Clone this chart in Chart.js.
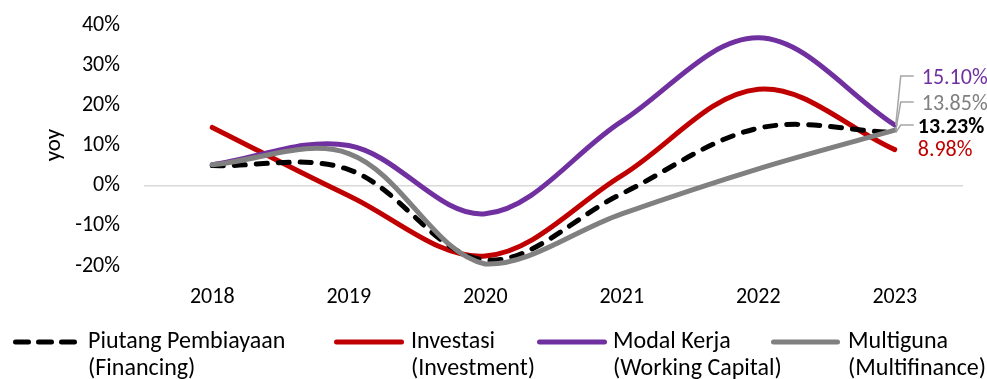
<!DOCTYPE html>
<html>
<head>
<meta charset="utf-8">
<script src="https://cdn.jsdelivr.net/npm/chart.js@4.4.1/dist/chart.umd.min.js"></script>
<style>
  html, body { margin: 0; padding: 0; background: #ffffff; }
  #wrap { position: relative; width: 987px; height: 379px; }
  canvas { display: block; }
</style>
</head>
<body>
<div id="wrap"><canvas id="c" width="987" height="379"></canvas></div>
<script>
const categories = ['2018', '2019', '2020', '2021', '2022', '2023'];
const financing  = [5.0, 4.0, -18.5, -2.0, 14.3, 13.23];
const investment = [14.5, -2.5, -17.5, 2.5, 24.0, 8.98];
const working    = [5.2, 10.0, -7.0, 16.0, 36.8, 15.10];
const multiguna  = [5.2, 8.0, -19.5, -7.0, 4.2, 13.85];
const yTicks     = [-20, -10, 0, 10, 20, 30, 40];

const seriesNames = [
  ['Piutang Pembiayaan', '(Financing)'],
  ['Investasi', '(Investment)'],
  ['Modal Kerja', '(Working Capital)'],
  ['Multiguna', '(Multifinance)']
];
const endLabels = ['13.23%', '8.98%', '15.10%', '13.85%'];

const FONT = 'Carlito, Lato, sans-serif';
const COLORS = ['#000000', '#C00000', '#7030A0', '#808080'];

const overlay = {
  id: 'overlay',
  afterDraw(chart) {
    const ctx = chart.ctx;
    const xs = chart.scales.x, ys = chart.scales.y;
    ctx.save();
    // y-axis title
    ctx.fillStyle = '#000';
    ctx.font = '23px ' + FONT;
    ctx.textAlign = 'center';
    ctx.textBaseline = 'middle';
    ctx.translate(54, 145);
    ctx.rotate(-Math.PI / 2);
    ctx.fillText('yoy', 0, 0);
    ctx.setTransform(1, 0, 0, 1, 0, 0);

    // end labels with leader lines
    const last = categories.length - 1;
    const px = xs.getPixelForValue(last);
    const labelSpec = [
      { ds: 0, y: 127, dx: 23, bold: true, leader: true },
      { ds: 1, y: 150, dx: 23, bold: false, leader: false },
      { ds: 2, y: 78, dx: 27, bold: false, leader: true },
      { ds: 3, y: 104, dx: 27, bold: false, leader: true }
    ];
    const vals = [financing, investment, working, multiguna];
    ctx.strokeStyle = '#A6A6A6';
    ctx.lineWidth = 1.5;
    labelSpec.forEach(s => {
      if (!s.leader) return;
      const py = ys.getPixelForValue(vals[s.ds][last]);
      ctx.beginPath();
      ctx.moveTo(px + 1, py);
      ctx.lineTo(px + 6, s.y - 2);
      ctx.lineTo(px + 19, s.y - 2);
      ctx.stroke();
    });
    ctx.textAlign = 'left';
    ctx.textBaseline = 'middle';
    labelSpec.forEach(s => {
      ctx.font = (s.bold ? 'bold ' : '') + '22px ' + FONT;
      ctx.fillStyle = COLORS[s.ds];
      ctx.fillText(endLabels[s.ds], px + s.dx, s.y);
    });

    // legend
    const legendItems = [
      { line: [13, 77], text: 88, dash: true },
      { line: [334, 404], text: 411 },
      { line: [537, 607], text: 613 },
      { line: [771, 840], text: 848 }
    ];
    legendItems.forEach((it, i) => {
      ctx.beginPath();
      ctx.strokeStyle = COLORS[i];
      ctx.lineWidth = 5;
      ctx.lineCap = 'round';
      ctx.setLineDash(it.dash ? [13, 10] : []);
      const a = it.line[0] + 2.5, b = it.line[1] - 2.5;
      ctx.moveTo(a, 342);
      ctx.lineTo(b, 342);
      ctx.stroke();
      ctx.setLineDash([]);
      ctx.fillStyle = '#000';
      ctx.font = '24px ' + FONT;
      ctx.fillText(seriesNames[i][0], it.text, 342);
      ctx.fillText(seriesNames[i][1], it.text, 369);
    });
    ctx.restore();
  }
};

const mk = (i, data, order, extra) => Object.assign({
  label: seriesNames[i].join(' '),
  data: data,
  borderColor: COLORS[i],
  backgroundColor: COLORS[i],
  borderWidth: 5,
  pointRadius: 0,
  pointHoverRadius: 0,
  tension: 0.35,
  fill: false,
  order: order,
  borderCapStyle: 'round',
  clip: false
}, extra || {});

new Chart(document.getElementById('c'), {
  type: 'line',
  data: {
    labels: categories,
    datasets: [
      mk(0, financing, 2, { borderDash: [11, 11] }),
      mk(1, investment, 4),
      mk(2, working, 3),
      mk(3, multiguna, 1)
    ]
  },
  options: {
    responsive: false,
    animation: false,
    events: [],
    layout: { autoPadding: false, padding: { top: 25, right: 24, left: 0, bottom: 0 } },
    plugins: { legend: { display: false }, tooltip: { enabled: false } },
    scales: {
      x: {
        type: 'category',
        offset: true,
        grid: { display: false, drawTicks: false },
        border: { display: false },
        ticks: { color: '#000', font: { family: FONT, size: 22 }, padding: 18, maxRotation: 0, autoSkip: false },
        afterFit(s) { s.height = 113; s.paddingLeft = 0; s.paddingRight = 0; }
      },
      y: {
        min: -20,
        max: 40,
        afterBuildTicks(s) { s.ticks = yTicks.map(v => ({ value: v })); },
        grid: {
          drawTicks: false,
          lineWidth: 1.5,
          color: c => (c.tick && c.tick.value === 0) ? '#D9D9D9' : 'rgba(0,0,0,0)'
        },
        border: { display: false },
        ticks: {
          color: '#000',
          font: { family: FONT, size: 22 },
          padding: 24,
          callback: v => v + '%'
        },
        afterFit(s) { s.width = 144; s.paddingTop = 0; s.paddingBottom = 0; }
      }
    }
  },
  plugins: [overlay]
});
</script>
</body>
</html>
